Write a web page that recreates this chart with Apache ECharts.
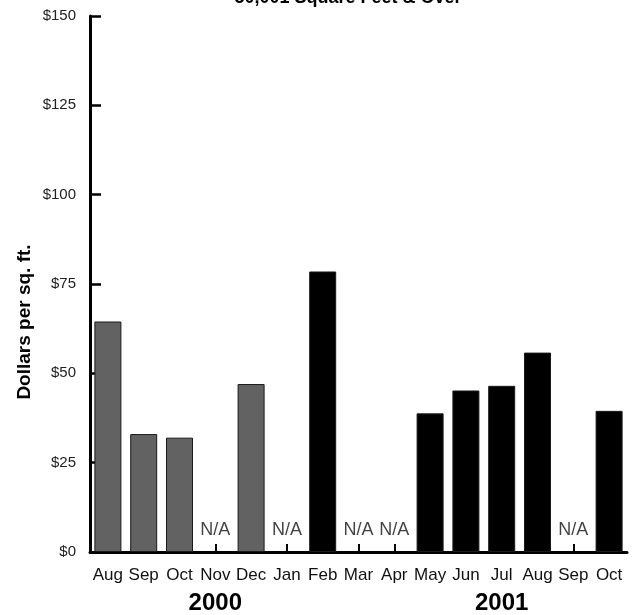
<!DOCTYPE html>
<html>
<head>
<meta charset="utf-8">
<script src="https://cdn.jsdelivr.net/npm/echarts@6/dist/echarts.min.js"></script>
<style>html,body{margin:0;padding:0;background:#fff}#c{width:639px;height:615px}</style>
</head>
<body>
<div id="c"></div>
<script>
const categories = ['Aug','Sep','Oct','Nov','Dec','Jan','Feb','Mar','Apr','May','Jun','Jul','Aug','Sep','Oct'];
const years = [2000,2000,2000,2000,2000,2001,2001,2001,2001,2001,2001,2001,2001,2001,2001];
const values = [64.5, 33.0, 32.0, null, 47.0, null, 78.5, null, null, 38.8, 45.2, 46.5, 55.8, null, 39.5];
const yearLabels = ['', '', '', '2000', '', '', '', '', '', '', '', '2001', '', '', ''];
const yTicks = [0, 25, 50, 75, 100, 125, 150];
const titleText = '50,001 Square Feet & Over';
const yName = 'Dollars per sq. ft.';
const naText = 'N/A';

const yearColor = {2000: '#626262', 2001: '#000000'};
const SANS = "'Liberation Sans',Arial,sans-serif";

const barData = values.map((v, i) => ({
  value: v,
  itemStyle: {color: yearColor[years[i]]}
}));
const naData = values.map(v => (v === null ? 0 : null));

const chart = echarts.init(document.getElementById('c'), null, {renderer: 'canvas'});
chart.setOption({
  animation: false,
  backgroundColor: '#fff',
  graphic: [
    {type: 'text', x: 348, y: 7, style: {text: titleText, font: "bold 18px " + SANS, fill: '#000', textAlign: 'center', textVerticalAlign: 'bottom'}},
    {type: 'text', x: 25, y: 322, rotation: Math.PI / 2, style: {text: yName, font: "bold 19px " + SANS, fill: '#000', textAlign: 'center', textVerticalAlign: 'middle'}}
  ],
  grid: {left: 90, right: 12, top: 16, bottom: 62, containLabel: false},
  xAxis: [
    {
      type: 'category', data: categories, position: 'bottom',
      axisLine: {lineStyle: {color: '#000', width: 3}},
      axisTick: {show: true, inside: true, alignWithLabel: true, length: 8, lineStyle: {color: '#000', width: 2}},
      axisLabel: {fontFamily: SANS, fontSize: 17, color: '#111', margin: 15, interval: 0}
    },
    {
      type: 'category', data: yearLabels, position: 'bottom', offset: 39,
      axisLine: {show: false}, axisTick: {show: false},
      axisLabel: {fontFamily: SANS, fontWeight: 'bold', fontSize: 24, color: '#000', interval: 0, margin: 0}
    }
  ],
  yAxis: {
    type: 'value', min: yTicks[0], max: yTicks[yTicks.length - 1], interval: 25,
    axisLine: {show: true, lineStyle: {color: '#000', width: 3}},
    axisTick: {show: true, inside: true, length: 11, lineStyle: {color: '#000', width: 2.5}},
    splitLine: {show: false},
    axisLabel: {fontFamily: SANS, fontSize: 15, color: '#222', margin: 14, formatter: v => '$' + v}
  },
  series: [
    {
      type: 'bar', data: barData, barWidth: 27, xAxisIndex: 0,
      itemStyle: {borderColor: '#1a1a1a', borderWidth: 1}
    },
    {
      type: 'scatter', data: naData, xAxisIndex: 0, symbolSize: 0,
      label: {show: true, position: 'top', distance: 13, formatter: naText, fontFamily: SANS, fontSize: 18, color: '#111'}
    }
  ]
});
</script>
</body>
</html>
